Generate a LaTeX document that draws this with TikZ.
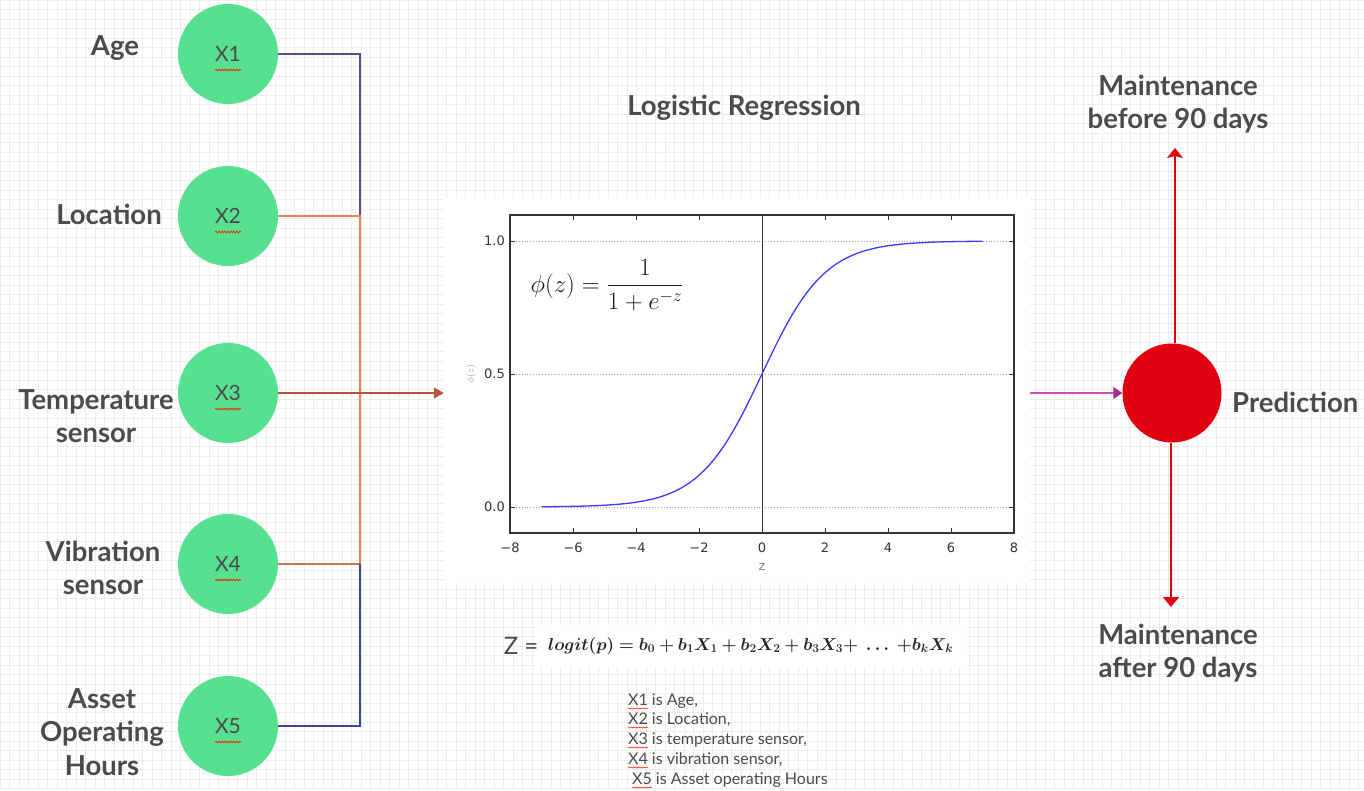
\documentclass[tikz,border=0pt]{standalone}
\usepackage{fontspec}
\usepackage{amsmath}
\usepackage{bm}
\setmainfont{Lato}
\newfontfamily\plotfont{DejaVu Sans}
\usetikzlibrary{arrows.meta,decorations.pathmorphing}
\definecolor{nodegreen}{HTML}{56E08F}
\definecolor{txtgray}{HTML}{4B4B4B}
\definecolor{cpurple}{HTML}{5E4B8B}
\definecolor{corange}{HTML}{F0825A}
\definecolor{cbrown}{HTML}{B4553A}
\definecolor{cbrownl}{HTML}{C87358}
\definecolor{cnavy}{HTML}{3A4A8C}
\definecolor{cmag}{HTML}{CC4FB8}
\definecolor{cmaghead}{HTML}{A03090}
\definecolor{cred}{HTML}{E0000F}
\definecolor{gridc}{HTML}{EDEDED}
\definecolor{axisc}{HTML}{333333}
\definecolor{curveblue}{HTML}{3B3BFF}
\newcommand{\logitformula}{$\bm{logit(p) = b_0 + b_1X_1 + b_2X_2 + b_3X_3{+}\;\ldots\;{+}b_kX_k}$}
\begin{document}
\begin{tikzpicture}[x=1pt,y=-1pt,
  inputnode/.style={circle,fill=nodegreen,minimum size=100pt,inner sep=0pt,text=txtgray,font=\fontsize{21}{26}\selectfont},
  lbl/.style={text=txtgray,font=\fontsize{27.5}{33.5}\selectfont\bfseries,align=center,inner sep=0pt},
  legend/.style={text=txtgray,font=\fontsize{16}{19}\selectfont,anchor=west,inner sep=0pt},
  wavy/.style={draw=red!75!orange,line width=0.7pt,decorate,decoration={snake,amplitude=0.9pt,segment length=3pt}},
  conn/.style={line width=1.5pt},
  ticklbl/.style={text=axisc,font=\plotfont\fontsize{13}{15}\selectfont,inner sep=0pt},
  dotgrid/.style={gray!70,dotted,line width=0.9pt},
  redarrow/.style={cred,line width=1.5pt}
]
\useasboundingbox (0,0) rectangle (1364,790);
\fill[white] (0,0) rectangle (1364,790);
% background grid
\foreach \gx in {0,9.5,...,1364} {\draw[gridc,line width=0.5pt] (\gx,0) -- (\gx,790);}
\foreach \gy in {0,9.5,...,790} {\draw[gridc,line width=0.5pt] (0,\gy) -- (1364,\gy);}

% input nodes
\node[inputnode] (x1) at (228,54) {X1};
\node[inputnode] (x2) at (228,216) {X2};
\node[inputnode] (x3) at (228,393) {X3};
\node[inputnode] (x4) at (228,564) {X4};
\node[inputnode] (x5) at (228,726) {X5};
\foreach \n in {x1,x2,x3,x4,x5} {\draw[wavy] ([xshift=-13pt,yshift=-16pt]\n.center) -- ([xshift=13pt,yshift=-16pt]\n.center);}

% labels
\node[lbl] (lage) at (115,48) {Age};
\node[lbl] (lloc) at (109,214) {Location};
\node[lbl] (ltemp) at (96,416) {Temperature\\sensor};
\node[lbl] (lvib) at (103,568) {Vibration\\sensor};
\node[lbl] (lasset) at (102,732) {Asset\\Operating\\Hours};

% chart panel
\node[fill=white,minimum width=586pt,minimum height=385pt,inner sep=0pt] (chart) at (737,390.5) {};

% junction coordinates
\coordinate (j1) at (360,54);
\coordinate (j2) at (360,216);
\coordinate (j4) at (360,564);
\coordinate (j5) at (360,726);

\draw[conn,cpurple] (x1.east) -- (j1) -- (j2);
\draw[conn,corange] (x2.east) -- (j2) -- (j4);
\draw[conn,cbrownl] (x4.east) -- (j4);
\draw[conn,cnavy] (j4) -- (j5) -- (x5.east);
\draw[conn,cbrown,-{Triangle[length=10pt,width=11pt]}] (x3.east) -- (x3.east -| chart.west);

% title
\node[lbl] (title) at (744,108) {Logistic Regression};

% plot
\draw[dotgrid] (510,241) -- (1014,241);
\draw[dotgrid] (510,374) -- (1014,374);
\draw[dotgrid] (510,507) -- (1014,507);
\draw[axisc,line width=1pt] (762,215) -- (762,533);
\draw[curveblue,line width=1.3pt] plot[domain=-7:7,samples=120,smooth] ({762+31.5*\x},{507-266/(1+exp(-\x))});
\draw[axisc,line width=1.3pt] (510,215) rectangle (1014,533);
\foreach \t in {-8,-6,...,8} {
  \draw[axisc,line width=0.8pt] ({762+31.5*\t},533) -- ({762+31.5*\t},528);
  \draw[axisc,line width=0.8pt] ({762+31.5*\t},215) -- ({762+31.5*\t},220);
}
\foreach \v in {241,374,507} {
  \draw[axisc,line width=0.8pt] (510,\v) -- (515,\v);
  \draw[axisc,line width=0.8pt] (1014,\v) -- (1009,\v);
}
\node[ticklbl] (tm8) at (510,548) {−8};
\node[ticklbl] (tm6) at (573,548) {−6};
\node[ticklbl] (tm4) at (636,548) {−4};
\node[ticklbl] (tm2) at (699,548) {−2};
\node[ticklbl] (t0) at (762,548) {0};
\node[ticklbl] (t2) at (825,548) {2};
\node[ticklbl] (t4) at (888,548) {4};
\node[ticklbl] (t6) at (951,548) {6};
\node[ticklbl] (t8) at (1014,548) {8};
\node[ticklbl,anchor=east] (y1) at (505,241) {1.0};
\node[ticklbl,anchor=east] (y05) at (505,374) {0.5};
\node[ticklbl,anchor=east] (y0) at (505,507) {0.0};
\node[ticklbl,text=gray] (zlab) at (762,567) {z};
\node[text=gray!80,rotate=90,inner sep=0pt,font=\fontsize{10}{12}\selectfont] (philab) at (471,374) {$\phi(z)$};
\node[inner sep=0pt,text=black!90,font=\fontsize{23}{27}\selectfont] (phiform) at (607,285) {$\displaystyle\phi(z) = \frac{1}{1+e^{-z}}$};

% prediction
\node[circle,fill=cred,minimum size=99pt,inner sep=0pt] (pred) at (1172,393) {};
\node[lbl,anchor=west] (lpred) at (1232,402) {Prediction};
\draw[line width=1.5pt,cmag,-{Triangle[length=9pt,width=12pt,color=cmaghead]}] (pred.west -| chart.east) -- (pred.west);
\node[lbl] (before) at (1178,104) {Maintenance\\before 90 days};
\node[lbl] (after) at (1178,653) {Maintenance\\after 90 days};
\coordinate (uptip) at (1175,148);
\coordinate (downtip) at (1171,607);
\draw[redarrow,-{Stealth[length=10pt,width=16pt,inset=2pt]}] (pred.north -| uptip) -- (uptip);
\draw[redarrow,-{Triangle[length=10pt,width=16pt]}] (pred.south -| downtip) -- (downtip);

% logit formula
\node[fill=white,minimum width=432pt,minimum height=42pt,inner sep=0pt] (fbg) at (751,646) {};
\node[text=txtgray,inner sep=0pt,font=\fontsize{24}{28}\selectfont] (zeq) at (521,646) {Z =};
\node[inner sep=0pt,text=black!85,font=\fontsize{18}{21}\selectfont,anchor=west] (logit) at (548,646) {\logitformula};

% legend
\node[legend] (l1) at (628,701) {X1 is Age,};
\node[legend] (l2) at (628,720) {X2 is Location,};
\node[legend] (l3) at (628,740) {X3 is temperature sensor,};
\node[legend] (l4) at (628,760) {X4 is vibration sensor,};
\node[legend] (l5) at (632,780) {X5 is Asset operating Hours};
\foreach \n in {l1,l2,l3,l4,l5} {\draw[wavy,line width=0.5pt,decoration={snake,amplitude=0.6pt,segment length=2.5pt}] ([yshift=-7.5pt]\n.west) -- ++(20,0);}
\end{tikzpicture}
\end{document}
